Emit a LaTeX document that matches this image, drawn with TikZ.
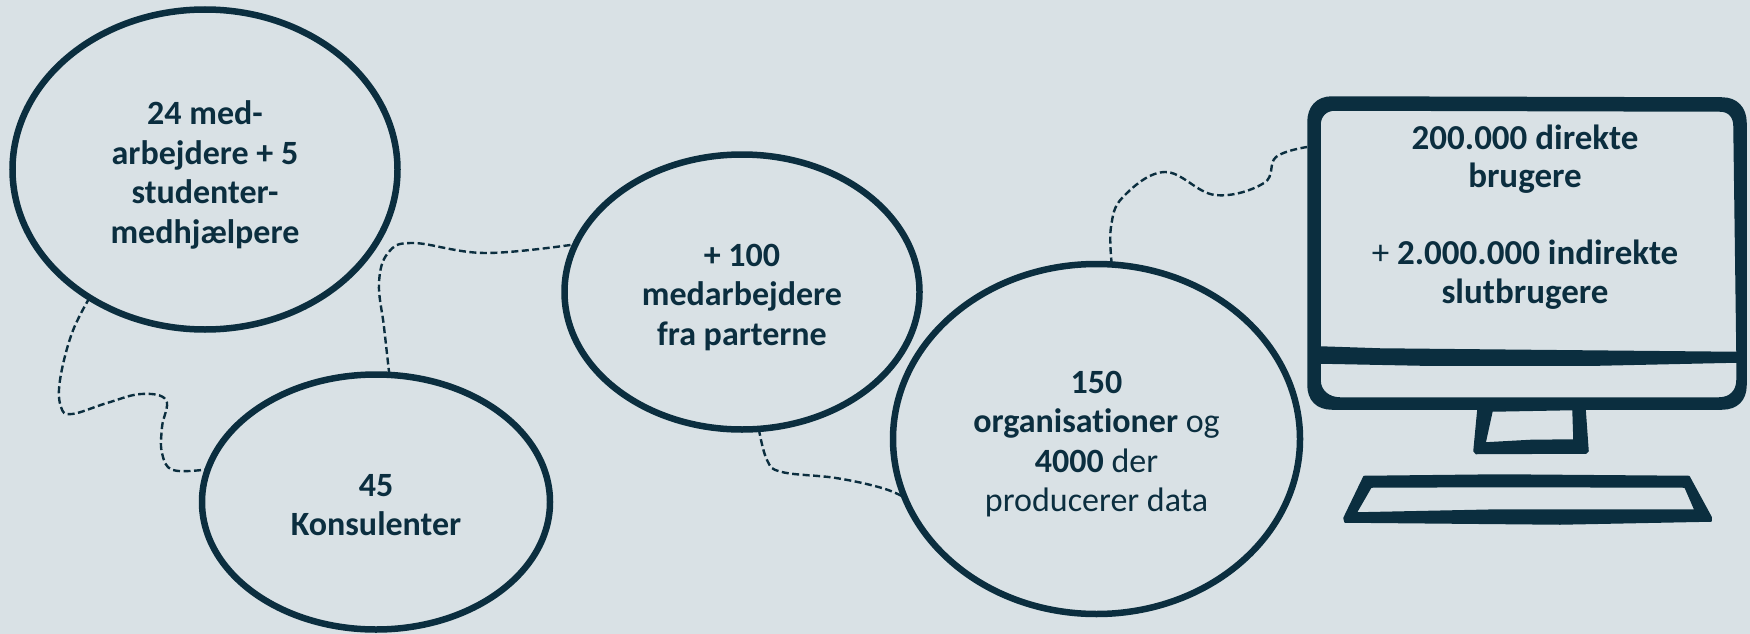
\documentclass[tikz,border=0pt]{standalone}
\usepackage{fontspec}
\setmainfont[Ligatures=NoCommon]{Carlito}
\usetikzlibrary{shapes.geometric}
\definecolor{ink}{HTML}{0B2E3F}
\definecolor{paper}{HTML}{D9E1E5}
\newcommand{\lowr}[1]{\rule{0pt}{#1}}
\tikzset{
  bub/.style={ellipse,draw=ink,line width=6.5pt,inner sep=0pt,outer sep=0pt,align=center,text=ink,
    font=\fontsize{34}{39.5}\selectfont},
  conn/.style={draw=ink,line width=2.4pt,dash pattern=on 7pt off 3.5pt},
  solidpart/.style={fill=ink,draw=ink,line width=1.5pt,line join=round,even odd rule},
  screentext/.style={text=ink,align=center,inner sep=0pt,font=\fontsize{35}{38.5}\selectfont}
}
\begin{document}
\begin{tikzpicture}[x=1pt,y=-1pt]
\useasboundingbox (0,0) rectangle (1750,634);
\fill[paper] (0,0) rectangle (1750,634);

% bubbles
\node[bub,minimum width=385pt,minimum height=320pt] (e1) at (205,169.5)
  {\lowr{35pt}\textbf{24 med-}\\\textbf{arbejdere + 5}\\\textbf{studenter-}\\\textbf{medhjælpere}};
\node[bub,minimum width=348pt,minimum height=255pt] (e2) at (376,502)
  {\lowr{28pt}\textbf{45}\\\textbf{Konsulenter}};
\node[bub,minimum width=355pt,minimum height=275pt] (e3) at (742,292)
  {\lowr{33pt}\textbf{+ 100}\\\textbf{medarbejdere}\\\textbf{fra parterne}};
\node[bub,minimum width=407pt,minimum height=350pt] (e4) at (1096.5,439)
  {\lowr{32pt}\textbf{150}\\\textbf{organisationer} og\\\textbf{4000} der\\producerer data};

% monitor
\path[solidpart]
  (1332,97) -- (1722,98) .. controls (1737,98) and (1746,108) .. (1746,123)
  -- (1746,385) .. controls (1746,400) and (1737,409) .. (1722,409)
  -- (1332,409) .. controls (1317,409) and (1308,400) .. (1308,385)
  -- (1308,122) .. controls (1308,107) and (1317,97) .. (1332,97) -- cycle
  (1335,110) -- (1720,111) .. controls (1729,111) and (1734,117) .. (1734,126)
  -- (1737,352.5) -- (1480,350) -- (1380,349) -- (1320,347)
  -- (1320,125) .. controls (1320,116) and (1326,110) .. (1335,110) -- cycle
  (1320,363) -- (1420,365) -- (1600,365) -- (1737,362)
  -- (1737,380) .. controls (1737,391) and (1730,398) .. (1719,398)
  -- (1340,398) .. controls (1329,398) and (1320,391) .. (1320,380) -- cycle;
\path[solidpart]
  (1478,409) -- (1585,409) -- (1588,451) -- (1586,453) -- (1476,453.5) -- (1474,451) -- cycle
  (1492,411) -- (1485,443) -- (1530,440.5) -- (1574,440) -- (1573,409.5) -- cycle;
\path[solidpart]
  (1364,476.5) -- (1500,475) -- (1689,476.5) -- (1711,517) -- (1711,521) -- (1560,524) -- (1345,522) -- (1344,518) -- cycle
  (1371,487) -- (1500,486.5) -- (1685,487) -- (1695,510) -- (1500,510) -- (1356,513) -- cycle;

\node[screentext] (mon) at (1525,217)
  {\textbf{200.000 direkte}\\\textbf{brugere}\\[38.5pt]+ \textbf{2.000.000 indirekte}\\\textbf{slutbrugere}};
\coordinate (monl) at (1307,147);

% connectors
\draw[conn] plot[smooth,tension=.65] coordinates {(e1.228) (72,333) (60,380) (61,407) (72,414) (107,403) (141,394) (166,400) (162,427) (162,453) (173,470) (e2.169)};
\draw[conn] plot[smooth,tension=.65] coordinates {(e2.84) (384,327) (379,283) (388,253) (413,243) (485,253) (e3.164)};
\draw[conn] plot[smooth,tension=.65] coordinates {(e3.277) (767,460) (782,472) (836,478) (882,488) (e4.197)};
\draw[conn] plot[smooth,tension=.65] coordinates {(e4.85) (1111,227) (1123,197) (1165,172) (1215,195) (1264,183) (1276,157) (monl)};
\end{tikzpicture}
\end{document}
